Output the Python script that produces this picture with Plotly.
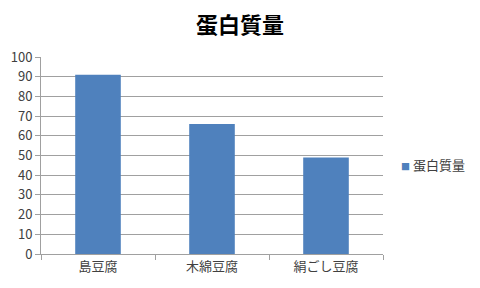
import plotly.graph_objects as go

categories = ["島豆腐", "木綿豆腐", "絹ごし豆腐"]
values = [91, 66, 49]
series_name = "蛋白質量"
y_ticks = list(range(0, 101, 10))

color = "#4F81BD"
fig = go.Figure()
fig.add_trace(go.Bar(
    x=categories, y=values, name=series_name,
    marker=dict(color=color, line=dict(width=0)),
    width=0.4, showlegend=False,
))

font_family = "Noto Sans CJK JP, sans-serif"
W, H = 480, 288
L, R, T, B = 41, 97, 57, 34
pw = W - L - R
ph = H - T - B

fig.update_layout(
    width=W, height=H,
    margin=dict(l=L, r=R, t=T, b=B, autoexpand=False),
    paper_bgcolor="white", plot_bgcolor="white",
    font=dict(family=font_family, size=13, color="#404040"),
    title=dict(text="<b>" + series_name + "</b>", x=0.5, xanchor="center",
               y=1 - 25/288, yanchor="middle",
               font=dict(size=22, color="black", family=font_family)),
    showlegend=False,
)
# legend drawn as real text: coloured square + series name
fig.add_annotation(
    xref="paper", yref="paper",
    x=(399 - L) / pw, y=(H - B - 164) / ph,
    xanchor="left", yanchor="middle", showarrow=False,
    text="<span style='color:%s;font-size:9px'>■</span> %s" % (color, series_name),
    font=dict(size=13, color="#404040", family=font_family),
)
fig.update_xaxes(
    showline=True, linecolor="#A0A0A0", linewidth=1,
    ticks="outside", tickson="boundaries", ticklen=5, tickcolor="#A0A0A0",
    showgrid=False, tickfont=dict(size=13, color="#404040"),
)
fig.update_yaxes(
    range=[0, 100], tickvals=y_ticks,
    showline=True, linecolor="#A0A0A0", linewidth=1,
    ticks="outside", ticklen=5, tickcolor="#A0A0A0",
    showgrid=True, gridcolor="#A0A0A0", gridwidth=1,
    zeroline=False, tickfont=dict(size=13, color="#404040"),
)

fig.write_html("out.html")
